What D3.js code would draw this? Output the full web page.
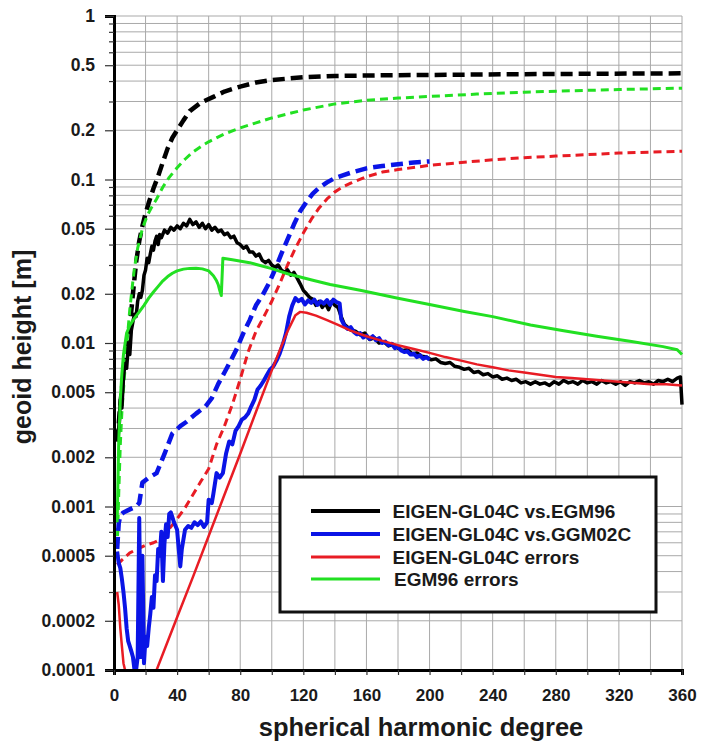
<!DOCTYPE html>
<html>
<head>
<meta charset="utf-8">
<script src="https://cdn.jsdelivr.net/npm/d3@7/dist/d3.min.js"></script>
<style>
  html, body { margin: 0; padding: 0; background: #fff; }
  svg { display: block; }
</style>
</head>
<body>
<svg id="chart" width="704" height="745"></svg>
<script>
// ---------------- DATA (degree, geoid height [m]) ----------------
const xTickValues = d3.range(0, 361, 20);
const xTickLabels = ["0","","40","","80","","120","","160","","200","","240","","280","","320","","360"];
const yTickLabelValues = [1, 0.5, 0.2, 0.1, 0.05, 0.02, 0.01, 0.005, 0.002, 0.001, 0.0005, 0.0002, 0.0001];
const yTickLabels = ["1","0.5","0.2","0.1","0.05","0.02","0.01","0.005","0.002","0.001","0.0005","0.0002","0.0001"];

const legendLabels = ["EIGEN-GL04C vs.EGM96", "EIGEN-GL04C vs.GGM02C", "EIGEN-GL04C errors", "EGM96 errors"];

// black dashed: cumulative EIGEN-GL04C vs EGM96
const egm96DiffCum = [[2,0.0025],[3,0.0032],[4,0.0042],[6,0.0065],[8,0.009],[10,0.0125],[12,0.02],[14,0.031],[16,0.042],[18,0.052],[20,0.062],[22,0.072],[25,0.088],[28,0.105],[31,0.128],[34,0.155],[37,0.18],[40,0.2],[44,0.23],[48,0.262],[55,0.295],[63,0.32],[70,0.345],[80,0.37],[90,0.392],[100,0.406],[120,0.422],[140,0.43],[170,0.434],[200,0.436],[250,0.44],[300,0.443],[360,0.446]];

// green dashed: cumulative EGM96 errors
const egm96ErrCum = [[2,0.00055],[3,0.0012],[4,0.0024],[5,0.0038],[6,0.0052],[8,0.0095],[10,0.016],[12,0.024],[13,0.029],[14,0.033],[15,0.038],[18,0.05],[21,0.06],[24,0.068],[27,0.076],[31,0.09],[35,0.103],[40,0.118],[45,0.133],[50,0.147],[55,0.159],[60,0.17],[70,0.19],[80,0.207],[90,0.222],[100,0.238],[120,0.266],[140,0.29],[160,0.305],[180,0.315],[200,0.322],[230,0.333],[260,0.342],[290,0.349],[320,0.355],[360,0.362]];

// blue dashed: cumulative EIGEN-GL04C vs GGM02C
const ggm02DiffCum = [[2,0.00055],[3,0.00079],[4,0.00088],[6,0.00092],[10,0.00096],[14,0.001],[16,0.00105],[18,0.0014],[22,0.0015],[27,0.0016],[32,0.0021],[37,0.0028],[42,0.0031],[46,0.0033],[52,0.0037],[58,0.0041],[62,0.0046],[66,0.0056],[70,0.0066],[74,0.0078],[78,0.0093],[82,0.0115],[86,0.0138],[90,0.017],[94,0.0195],[98,0.023],[102,0.028],[106,0.035],[110,0.043],[114,0.053],[118,0.064],[122,0.073],[126,0.082],[130,0.089],[135,0.096],[140,0.102],[145,0.106],[150,0.11],[160,0.117],[170,0.121],[180,0.124],[190,0.127],[200,0.129]];

// red dashed: cumulative EIGEN-GL04C errors
const eigenErrCum = [[2,0.00044],[5,0.00047],[10,0.00052],[15,0.00055],[20,0.00058],[25,0.0006],[28,0.00062],[32,0.00068],[36,0.00075],[40,0.00084],[45,0.00098],[50,0.00118],[55,0.00142],[60,0.0017],[65,0.0024],[70,0.0031],[75,0.0042],[80,0.006],[85,0.0088],[90,0.0118],[95,0.0145],[100,0.018],[105,0.023],[110,0.03],[115,0.038],[120,0.047],[125,0.057],[130,0.067],[135,0.076],[140,0.084],[145,0.09],[150,0.095],[160,0.104],[170,0.111],[180,0.115],[200,0.122],[220,0.127],[240,0.132],[260,0.136],[280,0.139],[300,0.142],[320,0.145],[340,0.147],[360,0.149]];

// black solid: EIGEN-GL04C vs EGM96 per degree
const egm96Diff = [[2,0.0025],[3,0.003],[4,0.0045],[5,0.004],[6,0.0062],[7,0.0075],[8,0.007],[9,0.0095],[10,0.0085],[11,0.012],[12,0.0135],[13,0.015],[14,0.0145],[15,0.018],[16,0.02],[17,0.019],[18,0.021],[19,0.026],[20,0.028],[21,0.033],[22,0.031],[23,0.035],[24,0.039],[25,0.037],[26,0.042],[27,0.045],[28,0.04],[29,0.046],[30,0.044],[32,0.049],[34,0.047],[36,0.051],[38,0.049],[40,0.052],[42,0.05],[44,0.054],[46,0.052],[48,0.057],[50,0.053],[52,0.055],[54,0.051],[56,0.054],[58,0.05],[60,0.053],[62,0.049],[64,0.051],[66,0.048],[68,0.049],[70,0.046],[72,0.047],[74,0.044],[76,0.045],[78,0.041],[80,0.04],[82,0.038],[84,0.039],[86,0.036],[88,0.036],[90,0.034],[92,0.035],[94,0.032],[96,0.031],[98,0.032],[100,0.03],[102,0.029],[104,0.03],[106,0.028],[108,0.027],[110,0.028],[112,0.026],[114,0.027],[116,0.025],[118,0.023],[120,0.021],[122,0.02],[124,0.019],[126,0.0185],[128,0.017],[130,0.018],[132,0.0165],[134,0.0175],[136,0.016],[138,0.018],[140,0.017],[142,0.0165],[144,0.0145],[146,0.013],[148,0.0125],[150,0.012],[153,0.0118],[156,0.0112],[159,0.0115],[162,0.0105],[165,0.0108],[168,0.01],[171,0.0102],[174,0.0096],[177,0.0098],[180,0.0093],[183,0.009],[186,0.0091],[189,0.0086],[192,0.0087],[195,0.0083],[198,0.0082],[201,0.0079],[204,0.008],[207,0.0076],[210,0.0075],[213,0.0076],[216,0.0072],[219,0.0071],[222,0.0069],[225,0.007],[228,0.0066],[231,0.0067],[234,0.0064],[237,0.0065],[240,0.0062],[243,0.0063],[246,0.006],[249,0.0061],[252,0.0059],[255,0.006],[258,0.0057],[261,0.0058],[264,0.0056],[267,0.0058],[270,0.0056],[273,0.0057],[276,0.0055],[279,0.0058],[282,0.0056],[285,0.0059],[288,0.0057],[291,0.0058],[294,0.0056],[297,0.0059],[300,0.0057],[303,0.0058],[306,0.0056],[309,0.0059],[312,0.0057],[315,0.0058],[318,0.0056],[321,0.0058],[324,0.0055],[327,0.0058],[330,0.0057],[333,0.0059],[336,0.0057],[339,0.0058],[342,0.0056],[345,0.0059],[348,0.0058],[351,0.006],[354,0.0058],[357,0.0061],[359,0.0062],[360,0.0042]];

// blue solid: EIGEN-GL04C vs GGM02C per degree
const ggm02Diff = [[2,0.00053],[3,0.00045],[4,0.00042],[5,0.00036],[6,0.0003],[7,0.00024],[8,0.00018],[9,0.00015],[10,0.00014],[11,0.00013],[12,0.00012],[13,0.0001],[14,0.0001],[15,0.00012],[16,0.00085],[17,0.00012],[18,0.0005],[19,0.00011],[20,0.00016],[21,0.00014],[22,0.00018],[23,0.00022],[24,0.00028],[25,0.00024],[26,0.00038],[27,0.00035],[28,0.00055],[29,0.0005],[30,0.0007],[31,0.00035],[32,0.0006],[33,0.00078],[34,0.00065],[35,0.0009],[36,0.00092],[37,0.00086],[38,0.0008],[40,0.00072],[41,0.00055],[42,0.00043],[43,0.00055],[45,0.00072],[47,0.00076],[49,0.00074],[51,0.0008],[53,0.00077],[55,0.00081],[57,0.00075],[59,0.0008],[60,0.0011],[62,0.00105],[63,0.0012],[65,0.0016],[67,0.0015],[69,0.0016],[71,0.0021],[73,0.0025],[75,0.0024],[77,0.0029],[79,0.0031],[81,0.0034],[83,0.0035],[85,0.0037],[87,0.0041],[89,0.0045],[91,0.0052],[93,0.0055],[95,0.0059],[97,0.0064],[99,0.0069],[101,0.0072],[103,0.0078],[105,0.0086],[107,0.0098],[109,0.0115],[111,0.0145],[113,0.017],[115,0.0188],[117,0.018],[119,0.0186],[121,0.0172],[123,0.0182],[125,0.0176],[127,0.0184],[129,0.0171],[131,0.018],[133,0.0174],[135,0.0183],[137,0.0171],[139,0.0184],[141,0.0178],[143,0.0175],[144,0.014],[146,0.0128],[148,0.0122],[150,0.0125],[152,0.0117],[154,0.0113],[156,0.0115],[158,0.0108],[160,0.0111],[162,0.0106],[164,0.011],[166,0.0104],[168,0.0107],[170,0.01],[172,0.0102],[174,0.0097],[176,0.0099],[178,0.0093],[180,0.0095],[182,0.009],[184,0.0088],[186,0.0089],[188,0.0085],[190,0.0086],[192,0.0082],[194,0.0084],[196,0.008],[198,0.0082],[200,0.0079]];

// red solid: EIGEN-GL04C errors per degree
const eigenErr = [[2,0.0003],[3,0.00025],[4,0.00018],[5,0.00014],[6,0.00011],[7,0.0001],[8,0.00008],[12,0.00005],[20,0.00005],[24,0.00007],[27,0.0001],[40,0.00021],[50,0.00037],[60,0.00066],[70,0.00118],[80,0.0021],[90,0.0038],[100,0.0068],[105,0.009],[110,0.0118],[115,0.0148],[118,0.0155],[122,0.0153],[128,0.0147],[135,0.0138],[142,0.0129],[150,0.0119],[160,0.011],[170,0.0103],[180,0.0097],[190,0.0092],[200,0.0087],[210,0.0082],[220,0.0078],[230,0.0074],[240,0.0071],[250,0.0068],[260,0.0066],[270,0.0064],[280,0.0062],[290,0.0061],[300,0.006],[310,0.0059],[320,0.0058],[330,0.0057],[340,0.0056],[350,0.0056],[360,0.0055]];

// green solid: EGM96 errors per degree
const egm96Err = [[2,0.0008],[3,0.0025],[4,0.0045],[5,0.0065],[6,0.0085],[8,0.0115],[10,0.0128],[13,0.0142],[16,0.0155],[19,0.017],[22,0.0188],[25,0.0205],[28,0.0222],[31,0.024],[34,0.0255],[37,0.0267],[40,0.0276],[44,0.0283],[48,0.0286],[52,0.0287],[56,0.0284],[60,0.0276],[63,0.0258],[65,0.024],[66,0.0228],[67,0.021],[68,0.0195],[69,0.033],[75,0.0323],[86,0.031],[100,0.0285],[110,0.0265],[126,0.0242],[137,0.0228],[156,0.021],[180,0.0188],[200,0.0172],[222,0.0156],[240,0.0145],[264,0.0129],[285,0.0119],[306,0.011],[328,0.0102],[348,0.0095],[357,0.0091],[360,0.0085]];

// ---------------- DRAWING ----------------
const FONT = "'Liberation Sans', Arial, Helvetica, sans-serif";
const svg = d3.select("#chart");
svg.append("rect").attr("width", 704).attr("height", 745).attr("fill", "#fff");

const x = d3.scaleLinear().domain([0, 360]).range([114, 682]);
const y = d3.scaleLog().domain([1e-4, 1]).range([670, 16]);

// minor log values
const logTicks = [];
for (let e = -4; e <= -1; e++) for (let k = 1; k <= 9; k++) logTicks.push(+(k * Math.pow(10, e)).toPrecision(3));
logTicks.push(1);

// grid
const grid = svg.append("g").attr("stroke", "#a9a9a9").attr("stroke-width", 1);
grid.selectAll("line.v").data(xTickValues).join("line")
  .attr("x1", d => x(d)).attr("x2", d => x(d)).attr("y1", y(1)).attr("y2", y(1e-4));
grid.selectAll("line.h").data(logTicks).join("line")
  .attr("x1", x(0)).attr("x2", x(360)).attr("y1", d => y(d)).attr("y2", d => y(d));

// clip
svg.append("clipPath").attr("id", "clip").append("rect")
  .attr("x", x(0)).attr("y", y(1) - 2).attr("width", x(360) - x(0) + 3).attr("height", y(1e-4) - y(1) + 2);

const line = d3.line().x(d => x(d[0])).y(d => y(d[1]));
const plot = svg.append("g").attr("clip-path", "url(#clip)").attr("fill", "none");

const series = [
  { data: egm96DiffCum, color: "#000000", w: 4.5, dash: "12,6" },
  { data: egm96ErrCum, color: "#22e022", w: 3, dash: "8,5" },
  { data: ggm02DiffCum, color: "#0a14e6", w: 4.5, dash: "12,6" },
  { data: eigenErrCum, color: "#e81c24", w: 3, dash: "8,5" },
  { data: egm96Diff, color: "#000000", w: 3.5, dash: null },
  { data: ggm02Diff, color: "#0a14e6", w: 4, dash: null },
  { data: eigenErr, color: "#e81c24", w: 2.5, dash: null },
  { data: egm96Err, color: "#22e022", w: 3, dash: null }
];
series.forEach(s => {
  plot.append("path").datum(s.data).attr("d", line)
    .attr("stroke", s.color).attr("stroke-width", s.w)
    .attr("stroke-linejoin", "round")
    .attr("stroke-dasharray", s.dash);
});

// axes
const yAxis = d3.axisLeft(y).tickValues(logTicks).tickSizeOuter(0)
  .tickSize(9).tickPadding(10)
  .tickFormat(d => { const i = yTickLabelValues.findIndex(v => Math.abs(v - d) < d * 1e-6); return i >= 0 ? yTickLabels[i] : ""; });
const gy = svg.append("g").attr("transform", `translate(${x(0)},0)`).call(yAxis);
gy.selectAll(".tick line").attr("x2", d => yTickLabelValues.some(v => Math.abs(v - d) < d * 1e-6) ? -9 : -5)
  .attr("stroke", "#333").attr("stroke-width", 1.2);
gy.select(".domain").attr("stroke", "#000").attr("stroke-width", 3);
gy.selectAll("text").attr("font-family", FONT).attr("font-weight", "bold").attr("font-size", 17.5).attr("fill", "#1a1a1a");

const xAxis = d3.axisBottom(x).tickValues(xTickValues).tickSizeOuter(0).tickSize(5).tickPadding(14)
  .tickFormat((d, i) => xTickLabels[i]);
const gx = svg.append("g").attr("transform", `translate(0,${y(1e-4)})`).call(xAxis);
gx.selectAll(".tick line").attr("stroke", "#333").attr("stroke-width", 1.2);
gx.select(".domain").attr("stroke", "#000").attr("stroke-width", 3);
gx.selectAll("text").attr("font-family", FONT).attr("font-weight", "bold").attr("font-size", 17).attr("fill", "#1a1a1a");

// axis titles
svg.append("text").attr("x", 421).attr("y", 736).attr("text-anchor", "middle")
  .attr("font-family", FONT).attr("font-weight", "bold").attr("font-size", 25.5).attr("fill", "#1a1a1a")
  .text("spherical harmonic degree");
svg.append("text").attr("transform", "translate(31,347) rotate(-90)").attr("text-anchor", "middle")
  .attr("font-family", FONT).attr("font-weight", "bold").attr("font-size", 25).attr("fill", "#1a1a1a")
  .text("geoid height [m]");

// legend
const lg = svg.append("g");
lg.append("rect").attr("x", 280).attr("y", 477).attr("width", 376).attr("height", 135)
  .attr("fill", "#fff").attr("stroke", "#111").attr("stroke-width", 3);
const legendColors = ["#000000", "#0a14e6", "#e81c24", "#22e022"];
const legendWidths = [4, 4, 3, 3];
const legendY = [511, 534, 557, 579];
legendLabels.forEach((lab, i) => {
  lg.append("line").attr("x1", 311).attr("x2", 380).attr("y1", legendY[i]).attr("y2", legendY[i])
    .attr("stroke", legendColors[i]).attr("stroke-width", legendWidths[i]);
  lg.append("text").attr("x", i === 3 ? 394 : 392.5).attr("y", legendY[i] + 7)
    .attr("font-family", FONT).attr("font-weight", "bold").attr("font-size", 19).attr("fill", "#1a1a1a")
    .text(lab);
});
</script>
</body>
</html>
